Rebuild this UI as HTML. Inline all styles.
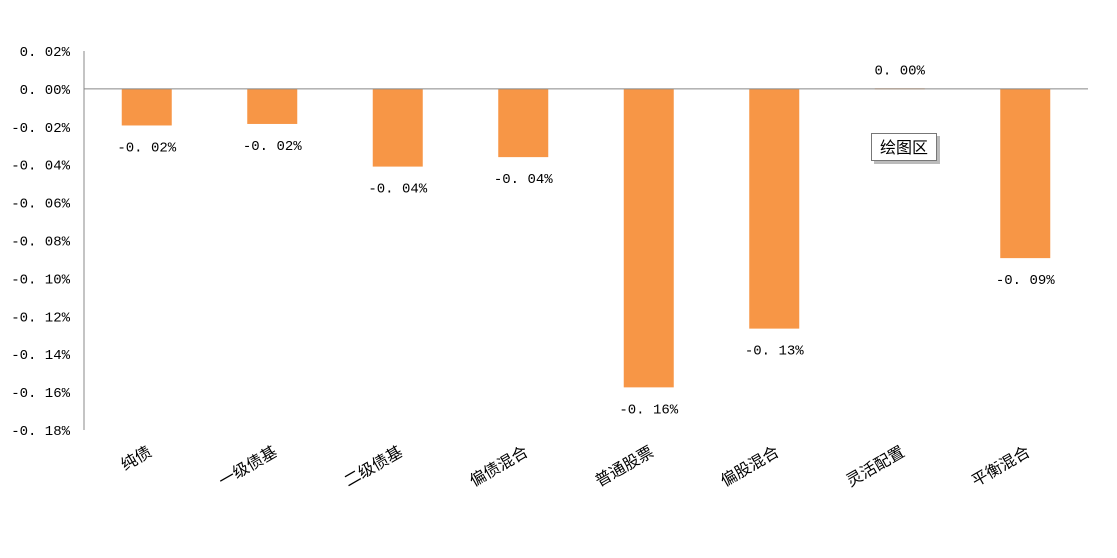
<!DOCTYPE html>
<html><head><meta charset="utf-8"><style>
body{margin:0;background:#fff;width:1117px;height:553px;overflow:hidden}
svg text{font-family:"Liberation Mono","Noto Sans CJK SC",monospace;fill:#000}
.cat{font-family:"Liberation Sans","Noto Sans CJK SC",sans-serif;font-size:16px}
</style></head><body>
<svg id="c" width="1117" height="553">
<g id="grid"></g>
</svg>
<script>
const categories=["纯债","一级债基","二级债基","偏债混合","普通股票","偏股混合","灵活配置","平衡混合"];
const values=[-0.0193,-0.0185,-0.041,-0.036,-0.1575,-0.1265,0.0003,-0.0893];
const labels=["-0.02%","-0.02%","-0.04%","-0.04%","-0.16%","-0.13%","0.00%","-0.09%"];
const ticks=[0.02,0,-0.02,-0.04,-0.06,-0.08,-0.10,-0.12,-0.14,-0.16,-0.18];
const svg=document.getElementById('c');const NS="http://www.w3.org/2000/svg";
const x0=84,x1=1088,yTop=51,yBot=430,vMax=0.02,vMin=-0.18;
const y=v=>yTop+(vMax-v)/(vMax-vMin)*(yBot-yTop);
const bw=(x1-x0)/categories.length;
const xc=i=>x0+bw*(i+0.5);
function mk(t,a){const e=document.createElementNS(NS,t);for(const k in a)e.setAttribute(k,a[k]);svg.appendChild(e);return e;}
ticks.forEach(t=>{const e=mk('text',{x:70,y:y(t)+5,'text-anchor':'end','font-size':14});


e.textContent=(t<0?'-':'')+Math.abs(t).toFixed(2).replace('.','. ')+'%';});
const ax=mk('line',{x1:x0,y1:yTop,x2:x0,y2:yBot,stroke:'#888','stroke-width':1});


values.forEach((v,i)=>{
 const top=Math.min(y(v),y(0)),h=Math.max(Math.abs(y(v)-y(0)),1);
 const r=mk('rect',{x:xc(i)-25,y:top,width:50,height:h,fill:'#F79646'});
 
 
 const ly=v<0?y(v)+26:y(v)-14;
 const t=mk('text',{x:xc(i),y:ly,'text-anchor':'middle','font-size':14});
 
 
 t.textContent=labels[i].replace('.','. ');
 const c=mk('text',{class:'cat',transform:`translate(${xc(i)+6},${455}) rotate(-30)`,'text-anchor':'end'});
 
 
 c.textContent=categories[i];
});
const zl=mk('line',{x1:x0,y1:y(0),x2:x1,y2:y(0),stroke:'#888','stroke-width':1});


const sh=mk('rect',{x:874,y:136,width:66,height:28,fill:'#bbb'});


const bx=mk('rect',{x:871.5,y:133.5,width:65,height:27,fill:'#fff',stroke:'#777'});


const tt=mk('text',{x:904,y:153,'text-anchor':'middle',class:'cat'});


tt.textContent='绘图区';
</script>
</body></html>
